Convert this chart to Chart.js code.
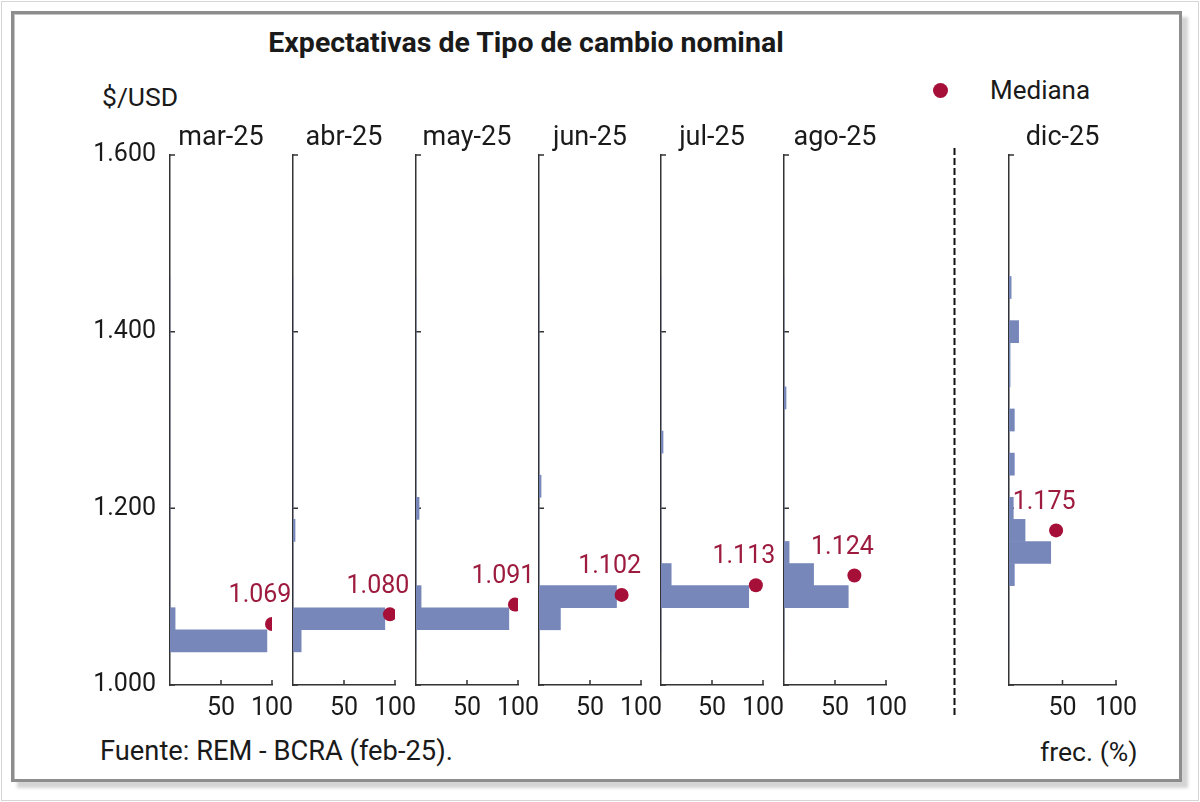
<!DOCTYPE html>
<html>
<head>
<meta charset="utf-8">
<title>Expectativas de Tipo de cambio nominal</title>
<script src="https://cdn.jsdelivr.net/npm/chart.js@4.4.1/dist/chart.umd.min.js"></script>
<style>
  html, body { margin: 0; padding: 0; background: #fff; }
  #page { position: relative; width: 1200px; height: 802px; overflow: hidden;
          font-family: Roboto, 'Noto Sans', sans-serif; color: #1a1a1a; }
  .outer { position: absolute; left: 1px; top: 1px; width: 1196px; height: 798px; border: 1px solid #d6d6d6; }
  .frame { position: absolute; left: 11px; top: 11px; width: 1165px; height: 765px;
           border: 3px solid #8d8d8d; background: #fff;
           box-shadow: 6px 6px 3px #d4d4d4, inset 1px 1px 0 #c4c4c4; }
  canvas.panel { position: absolute; }
  .txt { position: absolute; white-space: nowrap; line-height: 1; }
  #title { left: 526px; top: 43px; transform: translate(-50%, -50%); font-weight: bold; font-size: 28.5px; }
  #unit { left: 102px; top: 97px; transform: translateY(-50%); font-size: 26.5px; }
  #legend { left: 933px; top: 90px; transform: translateY(-50%); font-size: 26px; }
  #legend .dot { display: inline-block; width: 15px; height: 15px; border-radius: 50%;
                 background: #a50f38; margin-right: 42px; vertical-align: middle; position: relative; top: -2px; }
  #source { left: 100px; top: 752px; transform: translateY(-50%); font-size: 27.3px; }
  #freq { left: 1040px; top: 752px; transform: translateY(-50%); font-size: 26.6px; }
  #divider { position: absolute; left: 950px; top: 148px; }
</style>
</head>
<body>
<div id="page">
  <div class="outer"></div>
  <div class="frame"></div>
  <div class="txt" id="title">Expectativas de Tipo de cambio nominal</div>
  <div class="txt" id="unit">$/USD</div>
  <div class="txt" id="legend"><span class="dot"></span>Mediana</div>
  <div class="txt" id="source">Fuente: REM - BCRA (feb-25).</div>
  <div class="txt" id="freq">frec. (%)</div>
  <svg id="divider" width="10" height="570">
    <line x1="4.5" y1="0" x2="4.5" y2="568" stroke="#111" stroke-width="2" stroke-dasharray="7 3"/>
  </svg>
</div>
<script>
// survey months and histogram bins (centre of each $25 bin)
const months = ['mar-25', 'abr-25', 'may-25', 'jun-25', 'jul-25', 'ago-25', 'dic-25'];
const bins = [1050, 1075, 1100, 1125, 1150, 1175, 1200, 1225, 1250, 1275, 1300, 1325, 1350, 1375, 1400, 1425, 1450];

// frequency (%) of answers in each bin, one array per month
const freqMar = [95, 5, 0, 0, 0, 0, 0, 0, 0, 0, 0, 0, 0, 0, 0, 0, 0];
const freqAbr = [8, 90, 0, 0, 0, 2, 0, 0, 0, 0, 0, 0, 0, 0, 0, 0, 0];
const freqMay = [0, 91, 5, 0, 0, 0, 3, 0, 0, 0, 0, 0, 0, 0, 0, 0, 0];
const freqJun = [0, 21, 76, 0, 0, 0, 0, 2, 0, 0, 0, 0, 0, 0, 0, 0, 0];
const freqJul = [0, 0, 86, 10, 0, 0, 0, 0, 0, 2, 0, 0, 0, 0, 0, 0, 0];
const freqAgo = [0, 0, 63, 29, 5, 0, 0, 0, 0, 0, 0, 2, 0, 0, 0, 0, 0];
const freqDic = [0, 0, 0, 5, 39, 15, 4, 0, 5, 0, 5, 0, 1, 1, 9, 0, 2];
const freqs = [freqMar, freqAbr, freqMay, freqJun, freqJul, freqAgo, freqDic];

// median of each month and where its marker sits on the frequency axis
const medians = [1069, 1080, 1091, 1102, 1113, 1124, 1175];
const medianPos = [100, 95, 97, 81, 93, 69, 44];

// tick labels
const yTicks = [1000, 1200, 1400, 1600];
const xTicks = [50, 100];

// panel placement on the page (plot area left edge and width, px)
const panelLeft = [170, 293, 416, 539, 661, 784, 1009];
const panelWidth = [102, 102, 102, 102, 102, 102, 107];
const plotTop = 155, plotHeight = 530, titleH = 46, xAxisH = 40;

const barColor = '#7787b9';
const dotColor = '#a50f38';
const labelColor = '#9c1b3e';
const axisColor = '#333';
const textColor = '#1a1a1a';

function fmt(v) {
  return (v / 1000).toFixed(3);
}

// inward tick marks and the median value label
const panelDecor = {
  id: 'panelDecor',
  beforeDatasetsDraw(chart) {
    const { ctx, chartArea, scales: { x, y } } = chart;
    ctx.save();
    ctx.strokeStyle = axisColor;
    ctx.lineWidth = 1.5;
    ctx.beginPath();
    yTicks.forEach(v => {
      const py = y.getPixelForValue(v);
      ctx.moveTo(chartArea.left, py);
      ctx.lineTo(chartArea.left + 5, py);
    });
    xTicks.forEach(v => {
      const px = x.getPixelForValue(v);
      ctx.moveTo(px, chartArea.bottom);
      ctx.lineTo(px, chartArea.bottom - 5);
    });
    ctx.stroke();
    ctx.restore();
  },
  afterDatasetsDraw(chart) {
    const pt = chart.getDatasetMeta(0).data[0];
    const ctx = chart.ctx;
    ctx.save();
    ctx.fillStyle = labelColor;
    ctx.font = '25px Roboto';
    ctx.textAlign = 'center';
    ctx.textBaseline = 'middle';
    ctx.fillText(fmt(chart.data.datasets[0].data[0].y), pt.x - 12, pt.y - 28);
    ctx.restore();
  }
};

const page = document.getElementById('page');

months.forEach((month, i) => {
  const wy = i === 0 ? 90 : 0;
  const padL = i === 0 ? 10 : 40;
  const padR = 40;
  const canvas = document.createElement('canvas');
  canvas.className = 'panel';
  canvas.width = padL + wy + panelWidth[i] + padR;
  canvas.height = titleH + plotHeight + xAxisH;
  canvas.style.left = (panelLeft[i] - wy - padL) + 'px';
  canvas.style.top = (plotTop - titleH) + 'px';
  page.appendChild(canvas);

  new Chart(canvas, {
    type: 'bar',
    data: {
      datasets: [
        {
          type: 'scatter',
          data: [{ x: medianPos[i], y: medians[i] }],
          backgroundColor: dotColor,
          borderWidth: 0,
          pointRadius: 7,
          order: 0
        },
        {
          type: 'bar',
          indexAxis: 'y',
          data: bins.map((b, j) => ({ x: freqs[i][j], y: b })),
          backgroundColor: barColor,
          borderWidth: 0,
          barPercentage: 1,
          categoryPercentage: 1,
          order: 1
        }
      ]
    },
    options: {
      responsive: false,
      animation: false,
      events: [],
      layout: { padding: { left: padL, right: padR, top: 0, bottom: 0 }, autoPadding: false },
      plugins: {
        legend: { display: false },
        tooltip: { enabled: false },
        title: {
          display: true,
          text: month,
          fullSize: false,
          color: textColor,
          font: { family: 'Roboto', size: 27, weight: 'normal', lineHeight: '32px' },
          padding: { top: 13, bottom: 1 }
        }
      },
      scales: {
        x: {
          type: 'linear',
          position: 'bottom',
          offset: false,
          min: 0,
          max: 100,
          grid: { display: false, drawTicks: false, offset: false },
          border: { display: true, color: axisColor, width: 1.5 },
          ticks: { color: textColor, font: { family: 'Roboto', size: 25 }, padding: 9, maxRotation: 0, autoSkip: false },
          afterBuildTicks: s => { s.ticks = xTicks.map(v => ({ value: v })); },
          afterFit: s => { s.height = xAxisH; s.paddingLeft = 0; s.paddingRight = 0; }
        },
        y: {
          type: 'linear',
          position: 'left',
          offset: false,
          min: 1000,
          max: 1600,
          grid: { display: false, drawTicks: false, offset: false },
          border: { display: true, color: axisColor, width: 1.5 },
          ticks: {
            display: i === 0,
            stepSize: 200,
            color: textColor,
            font: { family: 'Roboto', size: 25 },
            padding: 14,
            callback: v => fmt(v)
          },
          afterFit: s => { s.width = wy; s.paddingTop = 0; s.paddingBottom = 0; }
        }
      }
    },
    plugins: [panelDecor]
  });
});
</script>
</body>
</html>
